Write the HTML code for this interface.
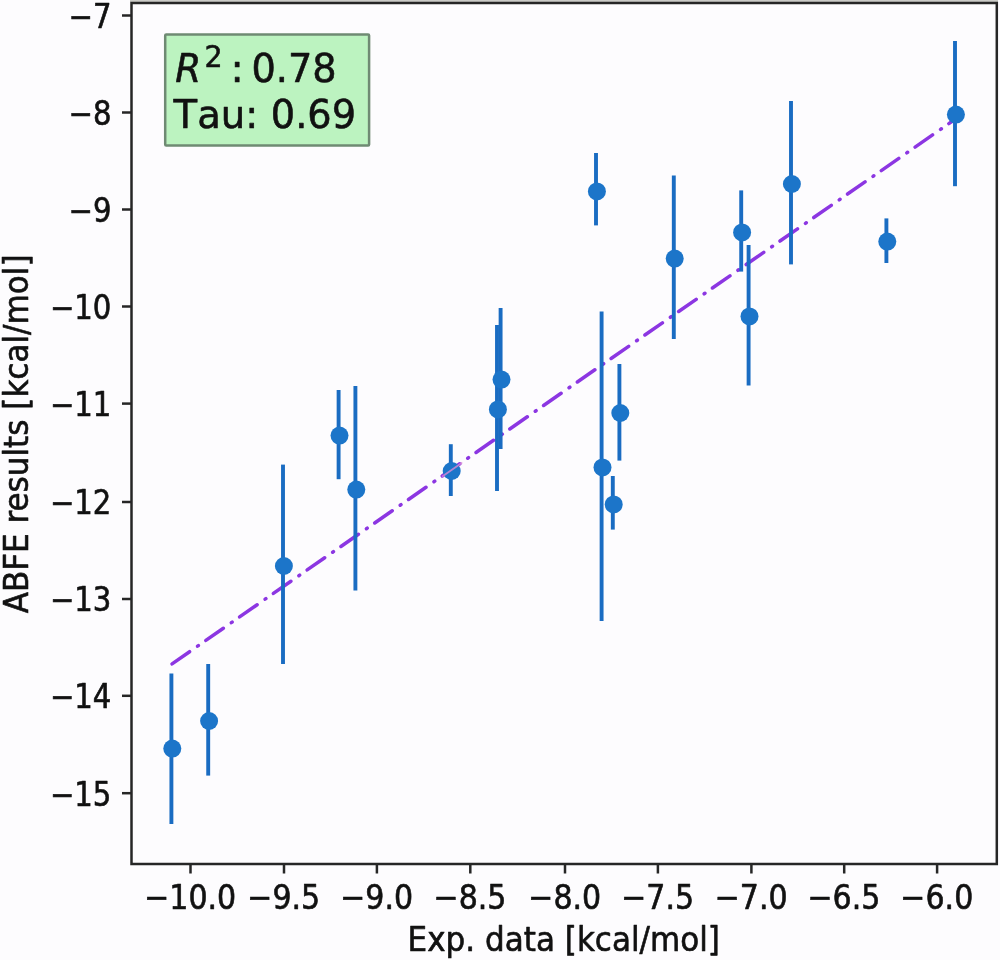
<!DOCTYPE html>
<html lang="en"><head><meta charset="utf-8"><title>ABFE results vs Exp. data</title>
<style>
html,body{margin:0;padding:0;background:#fdfcfe;}
body{width:1000px;height:960px;overflow:hidden;}
svg{display:block;filter:blur(0.45px);}
text{font-family:"DejaVu Sans","Liberation Sans",sans-serif;fill:#111;stroke:#111;stroke-width:0.6px;stroke-linejoin:round;}
.tk{font-size:33.5px;font-stretch:condensed;}
.bx{font-size:39.4px;}
</style></head><body>
<svg width="1000" height="960" viewBox="0 0 1000 960">
<rect x="0" y="0" width="1000" height="960" fill="#fdfcfe"/>
<rect x="130" y="0" width="868" height="2" fill="#cbcbc7"/>
<line x1="171.2" y1="664.5" x2="955.0" y2="119.3" stroke="#8c36e2" stroke-width="3.5" stroke-linecap="round" stroke-dasharray="21.34 9.71 0.98 9.11" stroke-dashoffset="-1.05" fill="none"/>
<g stroke="#1a6cc2" stroke-width="3.9" fill="none">
<line x1="171.4" y1="673.4" x2="171.4" y2="824.0"/>
<line x1="208.2" y1="664.0" x2="208.2" y2="775.6"/>
<line x1="283.0" y1="464.6" x2="283.0" y2="664.0"/>
<line x1="338.6" y1="390.0" x2="338.6" y2="479.2"/>
<line x1="355.4" y1="386.0" x2="355.4" y2="590.6"/>
<line x1="450.8" y1="444.2" x2="450.8" y2="496.0"/>
<line x1="497.0" y1="325.0" x2="497.0" y2="491.0"/>
<line x1="500.6" y1="308.0" x2="500.6" y2="449.0"/>
<line x1="596.0" y1="153.0" x2="596.0" y2="225.4"/>
<line x1="601.6" y1="311.6" x2="601.6" y2="621.0"/>
<line x1="612.8" y1="476.0" x2="612.8" y2="529.6"/>
<line x1="619.4" y1="364.0" x2="619.4" y2="460.6"/>
<line x1="673.8" y1="175.6" x2="673.8" y2="339.0"/>
<line x1="741.2" y1="190.4" x2="741.2" y2="271.6"/>
<line x1="748.6" y1="245.0" x2="748.6" y2="385.6"/>
<line x1="791.0" y1="101.0" x2="791.0" y2="264.4"/>
<line x1="886.4" y1="218.4" x2="886.4" y2="263.0"/>
<line x1="955.0" y1="41.0" x2="955.0" y2="186.2"/>
</g>
<g fill="#1c75c9">
<circle cx="172.3" cy="748.6" r="9"/>
<circle cx="209.1" cy="721.0" r="9"/>
<circle cx="283.9" cy="566.0" r="9"/>
<circle cx="339.5" cy="435.6" r="9"/>
<circle cx="356.3" cy="489.6" r="9"/>
<circle cx="451.7" cy="471.0" r="9"/>
<circle cx="497.9" cy="409.4" r="9"/>
<circle cx="501.5" cy="379.6" r="9"/>
<circle cx="596.9" cy="191.4" r="9"/>
<circle cx="602.5" cy="467.4" r="9"/>
<circle cx="613.7" cy="504.4" r="9"/>
<circle cx="620.3" cy="413.0" r="9"/>
<circle cx="674.7" cy="258.6" r="9"/>
<circle cx="742.1" cy="232.4" r="9"/>
<circle cx="749.5" cy="316.4" r="9"/>
<circle cx="791.9" cy="184.0" r="9"/>
<circle cx="887.3" cy="241.6" r="9"/>
<circle cx="955.9" cy="114.6" r="9"/>
</g>
<line x1="442.6" y1="476.2" x2="461.6" y2="463.0" stroke="#d98ad6" stroke-width="1.8" stroke-linecap="round" opacity="0.8"/>
<rect x="131.5" y="3.0" width="865.3" height="861.0" fill="none" stroke="#262626" stroke-width="2.5"/>
<g stroke="#262626" stroke-width="2.5">
<line x1="190.5" y1="864.0" x2="190.5" y2="873.5"/>
<line x1="284.0" y1="864.0" x2="284.0" y2="873.5"/>
<line x1="376.9" y1="864.0" x2="376.9" y2="873.5"/>
<line x1="470.3" y1="864.0" x2="470.3" y2="873.5"/>
<line x1="565.0" y1="864.0" x2="565.0" y2="873.5"/>
<line x1="657.9" y1="864.0" x2="657.9" y2="873.5"/>
<line x1="751.4" y1="864.0" x2="751.4" y2="873.5"/>
<line x1="844.2" y1="864.0" x2="844.2" y2="873.5"/>
<line x1="937.1" y1="864.0" x2="937.1" y2="873.5"/>
<line x1="122.0" y1="793.2" x2="131.5" y2="793.2"/>
<line x1="122.0" y1="695.8" x2="131.5" y2="695.8"/>
<line x1="122.0" y1="599.0" x2="131.5" y2="599.0"/>
<line x1="122.0" y1="502.0" x2="131.5" y2="502.0"/>
<line x1="122.0" y1="403.6" x2="131.5" y2="403.6"/>
<line x1="122.0" y1="306.5" x2="131.5" y2="306.5"/>
<line x1="122.0" y1="209.5" x2="131.5" y2="209.5"/>
<line x1="122.0" y1="112.5" x2="131.5" y2="112.5"/>
<line x1="122.0" y1="15.5" x2="131.5" y2="15.5"/>
</g>
<g class="tk">
<text transform="translate(190.2 908.5) scale(0.985 1)" font-size="33.9px" text-anchor="middle">−10.0</text>
<text transform="translate(283.7 908.5) scale(0.985 1)" font-size="33.9px" text-anchor="middle">−9.5</text>
<text transform="translate(376.6 908.5) scale(0.985 1)" font-size="33.9px" text-anchor="middle">−9.0</text>
<text transform="translate(470.0 908.5) scale(0.985 1)" font-size="33.9px" text-anchor="middle">−8.5</text>
<text transform="translate(564.7 908.5) scale(0.985 1)" font-size="33.9px" text-anchor="middle">−8.0</text>
<text transform="translate(657.6 908.5) scale(0.985 1)" font-size="33.9px" text-anchor="middle">−7.5</text>
<text transform="translate(751.1 908.5) scale(0.985 1)" font-size="33.9px" text-anchor="middle">−7.0</text>
<text transform="translate(843.9 908.5) scale(0.985 1)" font-size="33.9px" text-anchor="middle">−6.5</text>
<text transform="translate(936.8 908.5) scale(0.985 1)" font-size="33.9px" text-anchor="middle">−6.0</text>
<text transform="translate(111.4 805.6) scale(0.975 1)" font-size="33.2px" text-anchor="end">−15</text>
<text transform="translate(111.4 708.2) scale(0.975 1)" font-size="33.2px" text-anchor="end">−14</text>
<text transform="translate(111.4 611.4) scale(0.975 1)" font-size="33.2px" text-anchor="end">−13</text>
<text transform="translate(111.4 514.4) scale(0.975 1)" font-size="33.2px" text-anchor="end">−12</text>
<text transform="translate(111.4 416.0) scale(0.975 1)" font-size="33.2px" text-anchor="end">−11</text>
<text transform="translate(111.4 318.9) scale(0.975 1)" font-size="33.2px" text-anchor="end">−10</text>
<text transform="translate(111.4 221.9) scale(0.975 1)" font-size="33.2px" text-anchor="end">−9</text>
<text transform="translate(111.4 124.9) scale(0.975 1)" font-size="33.2px" text-anchor="end">−8</text>
<text transform="translate(111.4 27.9) scale(0.975 1)" font-size="33.2px" text-anchor="end">−7</text>
<text transform="translate(563.8 951) scale(1.03 1)" text-anchor="middle">Exp. data [kcal/mol]</text>
<text transform="translate(27.9 433.9) rotate(-90) scale(1.03 1)" text-anchor="middle">ABFE results [kcal/mol]</text>
</g>
<rect x="165.2" y="34.6" width="203.9" height="111" fill="#bcf3c0" stroke="#6f8a73" stroke-width="2.5" rx="1"/>
<g class="bx">
<text transform="translate(175.3 81.9) scale(0.95 1)" font-style="italic">R</text>
<text transform="translate(204.6 67.0) scale(0.95 1)" font-size="30px">2</text>
<text transform="translate(230.4 81.9) scale(1 1)">:</text>
<text transform="translate(251.4 81.9) scale(0.972 1)">0.78</text>
<text transform="translate(173.6 128.4) scale(0.98 1)" style="font-kerning:none">Tau:</text>
<text transform="translate(270.8 128.4) scale(0.972 1)">0.69</text>
</g>
</svg></body></html>
